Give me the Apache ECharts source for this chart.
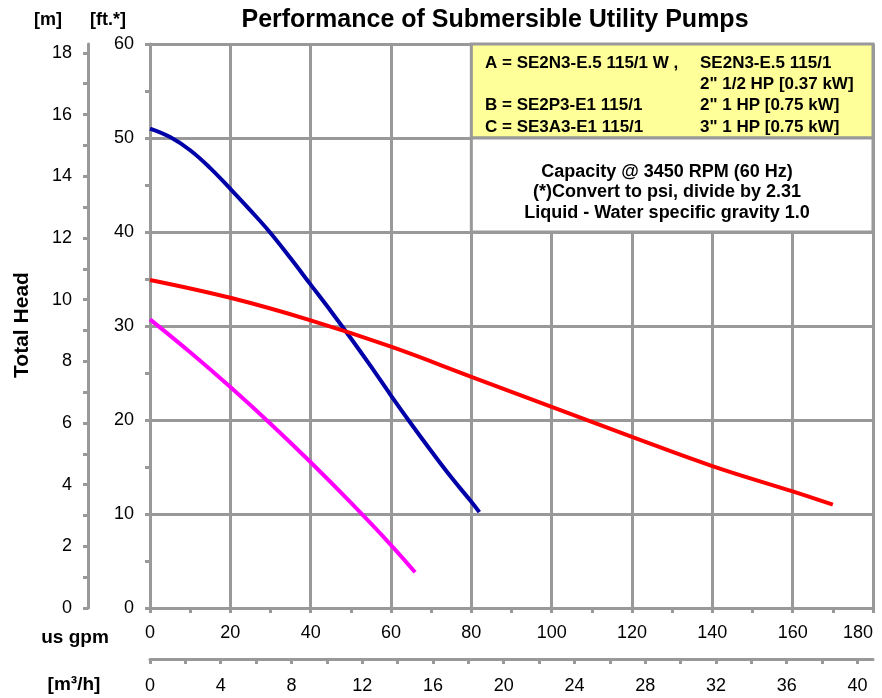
<!DOCTYPE html>
<html lang="en">
<head>
    <meta charset="UTF-8">
    <title>Performance of Submersible Utility Pumps</title>
    <script src="https://cdn.jsdelivr.net/npm/echarts@6/dist/echarts.min.js"></script>
    <style>
        body { margin: 0; background: #fff; }
        #main { width: 882px; height: 698px; }
    </style>
</head>
<body>
    <div id="main"></div>
<script>
    // curve A (magenta): flow in us gpm, head in ft
    var gpmA = [0, 10, 20, 30, 40, 50, 60, 66];
    var ftA = [30.7, 27.2, 23.5, 19.6, 15.5, 11.2, 6.7, 3.8];
    // curve B (blue)
    var gpmB = [0, 5, 10, 15, 20, 25, 30, 35, 40, 45, 50, 55, 60, 65, 70, 75, 80, 82];
    var ftB = [51.0, 50.1, 48.7, 46.8, 44.6, 42.3, 39.9, 37.2, 34.4, 31.6, 28.7, 25.7, 22.6, 19.6, 16.7, 13.9, 11.3, 10.2];
    // curve C (red)
    var gpmC = [0, 20, 40, 60, 80, 100, 120, 140, 160, 170];
    var ftC = [34.9, 33.0, 30.6, 27.8, 24.6, 21.4, 18.2, 15.1, 12.4, 11.0];

    var labelGpm = [51.5, 66, 71.4];
    var labelFt = [13.4, 22.9, 27.9];

    var legendLeft = ['A = SE2N3-E.5 115/1 W ,', '', 'B = SE2P3-E1 115/1', 'C = SE3A3-E1 115/1'];
    var legendRight = ['SE2N3-E.5 115/1', '2" 1/2 HP [0.37 kW]', '2" 1 HP [0.75 kW]', '3" 1 HP [0.75 kW]'];
    var notes = ['Capacity @ 3450 RPM (60 Hz)', '(*)Convert to psi, divide by 2.31', 'Liquid - Water specific gravity 1.0'];

    var GPM_PER_M3H = 4.40287;
    var FT_PER_M = 3.28084;

    function pairs(xs, ys) {
        var out = [];
        for (var i = 0; i < xs.length; i++) out.push([xs[i], ys[i]]);
        return out;
    }

    var font = 'Liberation Sans, Arial, sans-serif';
    var gray = '#999999';

    var my = echarts.init(document.getElementById('main'));

    var lineCfg = function (name, xs, ys, color, idx) {
        return {
            name: name,
            type: 'line',
            data: pairs(xs, ys),
            smooth: 0.4,
            symbol: 'none',
            z: 5,
            lineStyle: { color: color, width: 4 },
            markPoint: {
                symbol: 'none',
                label: { show: true, formatter: name, color: '#000', fontSize: 18, fontFamily: font },
                data: [{ coord: [labelGpm[idx], labelFt[idx]] }]
            }
        };
    };

    var seriesC = lineCfg('C', gpmC, ftC, '#ff0000', 2);
    seriesC.markArea = {
        silent: true,
        data: [
            [{ coord: [80, 50], itemStyle: { color: '#ffff99', borderColor: gray, borderWidth: 3 } }, { coord: [180, 60] }],
            [{ coord: [80, 40], itemStyle: { color: '#ffffff', borderColor: gray, borderWidth: 3 } }, { coord: [180, 50] }]
        ]
    };

    function txt(x, y, text, f, align) {
        return {
            type: 'text', x: x, y: y, z: 100,
            style: { text: text, font: f, fill: '#000', align: align || 'center', verticalAlign: 'middle' }
        };
    }

    var graphics = [
        txt(48, 20, '[m]', 'bold 18px ' + font),
        txt(108, 20, '[ft.*]', 'bold 18px ' + font),
        txt(75, 638, 'us gpm', 'bold 19px ' + font),
        txt(74, 685, '[m³/h]', 'bold 19px ' + font),
        {
            type: 'text', x: 22, y: 325, z: 100, rotation: Math.PI / 2,
            style: { text: 'Total Head', font: 'bold 21px ' + font, fill: '#000', align: 'center', verticalAlign: 'middle' }
        }
    ];
    legendLeft.forEach(function (t, i) {
        graphics.push(txt(485, 63 + i * 21.3, t, 'bold 17px ' + font, 'left'));
    });
    legendRight.forEach(function (t, i) {
        graphics.push(txt(700, 63 + i * 21.3, t, 'bold 17px ' + font, 'left'));
    });
    notes.forEach(function (t, i) {
        graphics.push(txt(667, 172 + i * 20.5, t, 'bold 18px ' + font, 'center'));
    });

    var option = {
        backgroundColor: '#fff',
        animation: false,
        title: {
            text: 'Performance of Submersible Utility Pumps',
            left: 490,
            top: 3,
            textAlign: 'center',
            textStyle: { fontSize: 25, fontWeight: 'bold', color: '#000', fontFamily: font }
        },
        grid: { left: 150, right: 9, top: 44, bottom: 90, outerBoundsMode: 'none' },
        xAxis: [
            {
                type: 'value', min: 0, max: 180, interval: 20,
                axisLine: { lineStyle: { color: gray, width: 3 } },
                axisTick: { show: true, length: 5, lineStyle: { color: gray, width: 3 } },
                minorTick: { show: true, splitNumber: 2, length: 5, lineStyle: { color: gray, width: 3 } },
                axisLabel: { color: '#000', fontSize: 18, margin: 16, fontFamily: font, alignMaxLabel: 'right' },
                splitLine: { show: true, lineStyle: { color: gray, width: 3 } }
            },
            {
                type: 'value', position: 'bottom', offset: 51,
                min: 0, max: 180 / GPM_PER_M3H, interval: 2,
                axisLine: { onZero: false, lineStyle: { color: gray, width: 3 } },
                axisTick: { show: true, length: 5, lineStyle: { color: gray, width: 3 } },
                axisLabel: {
                    color: '#000', fontSize: 18, margin: 18, fontFamily: font, showMaxLabel: false,
                    formatter: function (v) { return (Math.abs(v % 4) < 1e-6) ? String(v) : ''; }
                },
                splitLine: { show: false }
            }
        ],
        yAxis: [
            {
                type: 'value', min: 0, max: 60, interval: 10,
                axisLine: { show: true, lineStyle: { color: gray, width: 3 } },
                axisTick: { show: true, length: 5, lineStyle: { color: gray, width: 3 } },
                minorTick: { show: true, splitNumber: 2, length: 5, lineStyle: { color: gray, width: 3 } },
                axisLabel: { color: '#000', fontSize: 18, margin: 16, fontFamily: font },
                splitLine: { show: true, lineStyle: { color: gray, width: 3 } }
            },
            {
                type: 'value', position: 'left', offset: 62,
                min: 0, max: 60 / FT_PER_M, interval: 1,
                axisLine: { show: true, onZero: false, lineStyle: { color: gray, width: 3 } },
                axisTick: { show: true, length: 5, lineStyle: { color: gray, width: 3 } },
                axisLabel: {
                    color: '#000', fontSize: 18, margin: 16, fontFamily: font, showMaxLabel: false,
                    formatter: function (v) { return (Math.abs(v % 2) < 1e-6) ? String(v) : ''; }
                },
                splitLine: { show: false }
            }
        ],
        series: [
            lineCfg('A', gpmA, ftA, '#ff00ff', 0),
            lineCfg('B', gpmB, ftB, '#0000a8', 1),
            seriesC
        ],
        graphic: graphics
    };

    my.setOption(option);
</script>
</body>
</html>
